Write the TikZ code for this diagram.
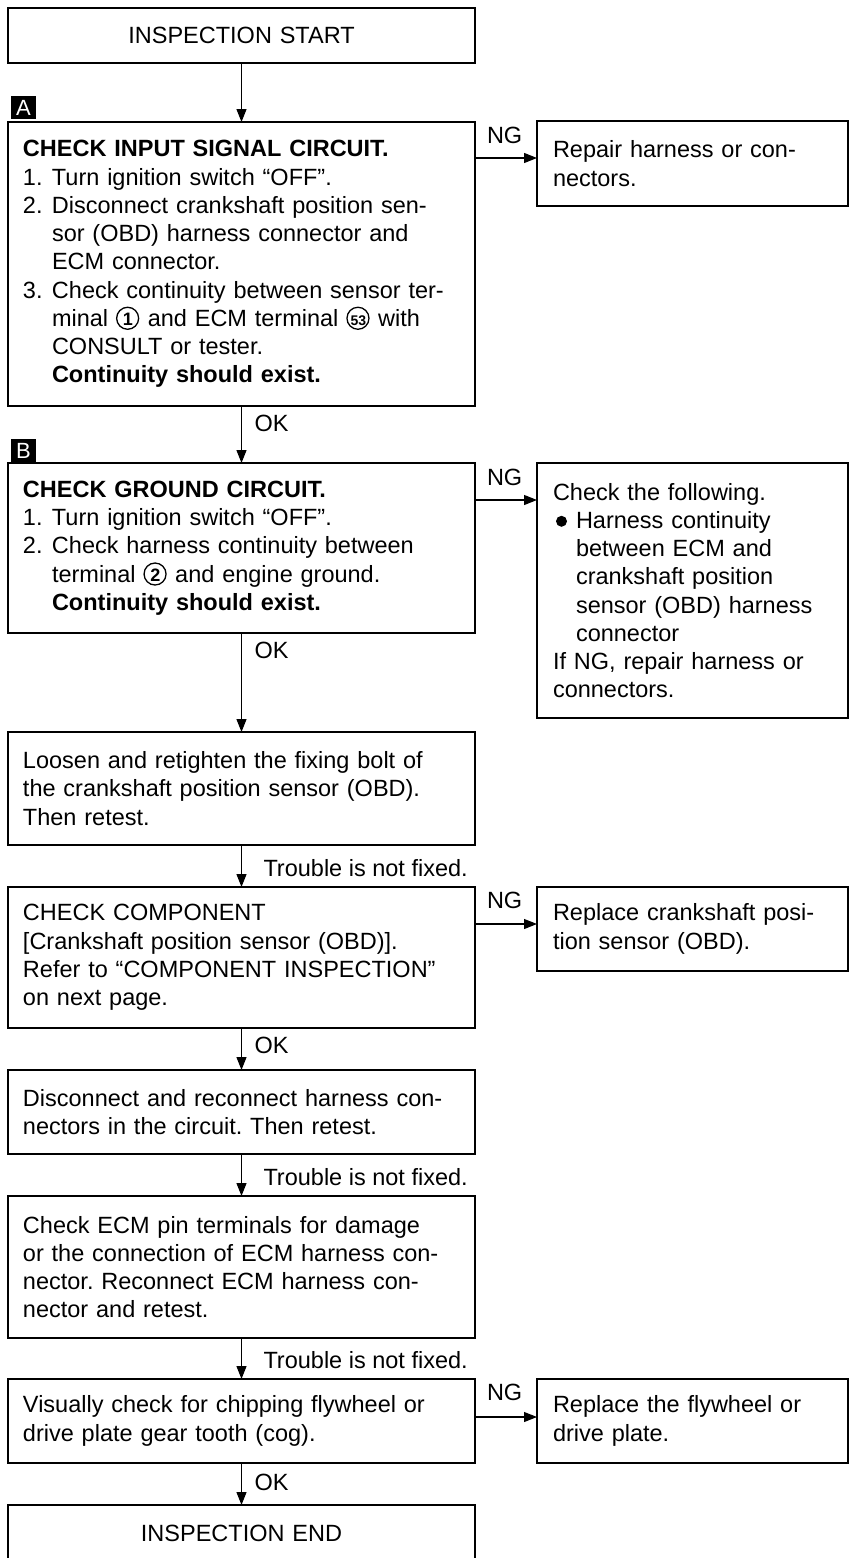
\documentclass[tikz,border=0pt]{standalone}
\usepackage{fontspec}
\setmainfont{Liberation Sans}
\usetikzlibrary{arrows.meta,calc}

\newcommand{\itm}[1]{\makebox[29pt][l]{#1}}
\newcommand{\ind}{\hspace*{29pt}}
\newcommand{\cn}[2][18]{\makebox[24pt][l]{\rlap{\tikz[baseline={(0pt,-8pt)}]\draw[line width=1.3pt] (0pt,0pt) circle[radius=11pt];}\makebox[24pt][c]{\raisebox{1pt}{\bfseries\fontsize{#1}{#1}\selectfont #2}}}}
\newcommand{\bul}{\makebox[23pt][l]{\hspace*{3pt}\tikz[baseline={(0pt,-7pt)}]\fill[draw=none] (0pt,0pt) circle[radius=5.5pt];}}
\newcommand{\hng}{\hspace*{23pt}}

\begin{document}
\frenchspacing
\begin{tikzpicture}[x=1pt,y=-1pt,
  base/.style={draw, line width=1.5pt, outer sep=0pt, inner ysep=0pt, anchor=north west, font=\fontsize{23.5}{28.25}\selectfont},
  lbox/.style={base, minimum width=467pt, text width=437pt, inner xsep=15pt, align=left},
  rbox/.style={base, minimum width=311pt, text width=279pt, inner xsep=16pt, align=left},
  cbox/.style={base, minimum width=467pt, text width=437pt, inner xsep=15pt, align=center},
  arr/.style={line width=1.1pt, -{Triangle[length=13pt,width=10pt]}},
  lab/.style={inner sep=0pt, outer sep=0pt, anchor=west, font=\fontsize{23.5}{28.25}\selectfont},
  tag/.style={fill=black, text=white, inner sep=0pt, outer sep=0pt, minimum width=25pt, minimum height=23pt, anchor=south west, font=\fontsize{22}{22}\selectfont}]

\useasboundingbox (0,0) rectangle (850,1558);

% left column
\node[cbox, minimum height=55pt] (start) at (8,8) {INSPECTION START};

\node[lbox, minimum height=284pt] (A) at (8,122) {%
\textbf{CHECK INPUT SIGNAL CIRCUIT.}\\
\itm{1.}Turn ignition switch “OFF”.\\
\itm{2.}Disconnect crankshaft position sen-\\
\ind sor (OBD) harness connector and\\
\ind ECM connector.\\
\itm{3.}Check continuity between sensor ter-\\
\ind minal \cn{1} and ECM terminal \cn[14]{53} with\\
\ind CONSULT or tester.\\
\ind\textbf{Continuity should exist.}};
\node[tag] (tagA) at ([xshift=3pt,yshift=3pt]A.north west) {A};

\node[lbox, minimum height=170pt] (B) at (8,463) {%
\textbf{CHECK GROUND CIRCUIT.}\\
\itm{1.}Turn ignition switch “OFF”.\\
\itm{2.}Check harness continuity between\\
\ind terminal \cn{2} and engine ground.\\
\ind\textbf{Continuity should exist.}};
\node[tag] (tagB) at ([xshift=3pt,yshift=1pt]B.north west) {B};

\node[lbox, minimum height=113pt] (loosen) at (8,732) {%
Loosen and retighten the fixing bolt of\\
the crankshaft position sensor (OBD).\\
Then retest.};

\node[lbox, minimum height=141pt] (comp) at (8,887) {%
CHECK COMPONENT\\
{[}Crankshaft position sensor (OBD)].\\
Refer to “COMPONENT INSPECTION”\\
on next page.};

\node[lbox, minimum height=84pt] (disc) at (8,1070) {%
Disconnect and reconnect harness con-\\
nectors in the circuit. Then retest.};

\node[lbox, minimum height=142pt] (ecm) at (8,1196) {%
Check ECM pin terminals for damage\\
or the connection of ECM harness con-\\
nector. Reconnect ECM harness con-\\
nector and retest.};

\node[lbox, minimum height=84pt] (vis) at (8,1379) {%
Visually check for chipping flywheel or\\
drive plate gear tooth (cog).};

\node[cbox, minimum height=56pt] (end) at (8,1505) {INSPECTION END};

% right column
\node[rbox, minimum height=85pt] (ng1) at (537,121) {%
Repair harness or con-\\
nectors.};

\node[rbox, minimum height=255pt] (ng2) at (537,463) {%
Check the following.\\
\bul Harness continuity\\
\hng between ECM and\\
\hng crankshaft position\\
\hng sensor (OBD) harness\\
\hng connector\\
If NG, repair harness or\\
connectors.};

\node[rbox, minimum height=84pt] (ng3) at (537,887) {%
Replace crankshaft posi-\\
tion sensor (OBD).};

\node[rbox, minimum height=84pt] (ng4) at (537,1379) {%
Replace the flywheel or\\
drive plate.};

% vertical connectors
\draw[arr] (start.south) -- (A.north);
\draw[arr] (A.south) -- (B.north);
\draw[arr] (B.south) -- (loosen.north);
\draw[arr] (loosen.south) -- (comp.north);
\draw[arr] (comp.south) -- (disc.north);
\draw[arr] (disc.south) -- (ecm.north);
\draw[arr] (ecm.south) -- (vis.north);
\draw[arr] (vis.south) -- (end.north);

\node[lab] (ok1) at ([xshift=13pt,yshift=-17pt]A.south) {OK};
\node[lab] (ok2) at ([xshift=13pt,yshift=-17pt]B.south) {OK};
\node[lab] (ok3) at ([xshift=13pt,yshift=-17pt]comp.south) {OK};
\node[lab] (ok4) at ([xshift=13pt,yshift=-19pt]vis.south) {OK};
\node[lab] (tr1) at ([xshift=22pt,yshift=-23pt]loosen.south) {Trouble is not fixed.};
\node[lab] (tr2) at ([xshift=22pt,yshift=-23pt]disc.south) {Trouble is not fixed.};
\node[lab] (tr3) at ([xshift=22pt,yshift=-22pt]ecm.south) {Trouble is not fixed.};

% NG connectors
\coordinate (p1) at ([yshift=-37pt]ng1.north west);
\coordinate (q1) at (p1 -| A.east);
\draw[arr] (q1) -- (p1);
\node[lab] (ngl1) at ([xshift=12pt,yshift=23pt]q1) {NG};

\coordinate (p2) at ([yshift=-37pt]ng2.north west);
\coordinate (q2) at (p2 -| B.east);
\draw[arr] (q2) -- (p2);
\node[lab] (ngl2) at ([xshift=12pt,yshift=23pt]q2) {NG};

\coordinate (p3) at ([yshift=-37pt]ng3.north west);
\coordinate (q3) at (p3 -| comp.east);
\draw[arr] (q3) -- (p3);
\node[lab] (ngl3) at ([xshift=12pt,yshift=24pt]q3) {NG};

\coordinate (p4) at ([yshift=-38pt]ng4.north west);
\coordinate (q4) at (p4 -| vis.east);
\draw[arr] (q4) -- (p4);
\node[lab] (ngl4) at ([xshift=12pt,yshift=25pt]q4) {NG};

\end{tikzpicture}
\end{document}
